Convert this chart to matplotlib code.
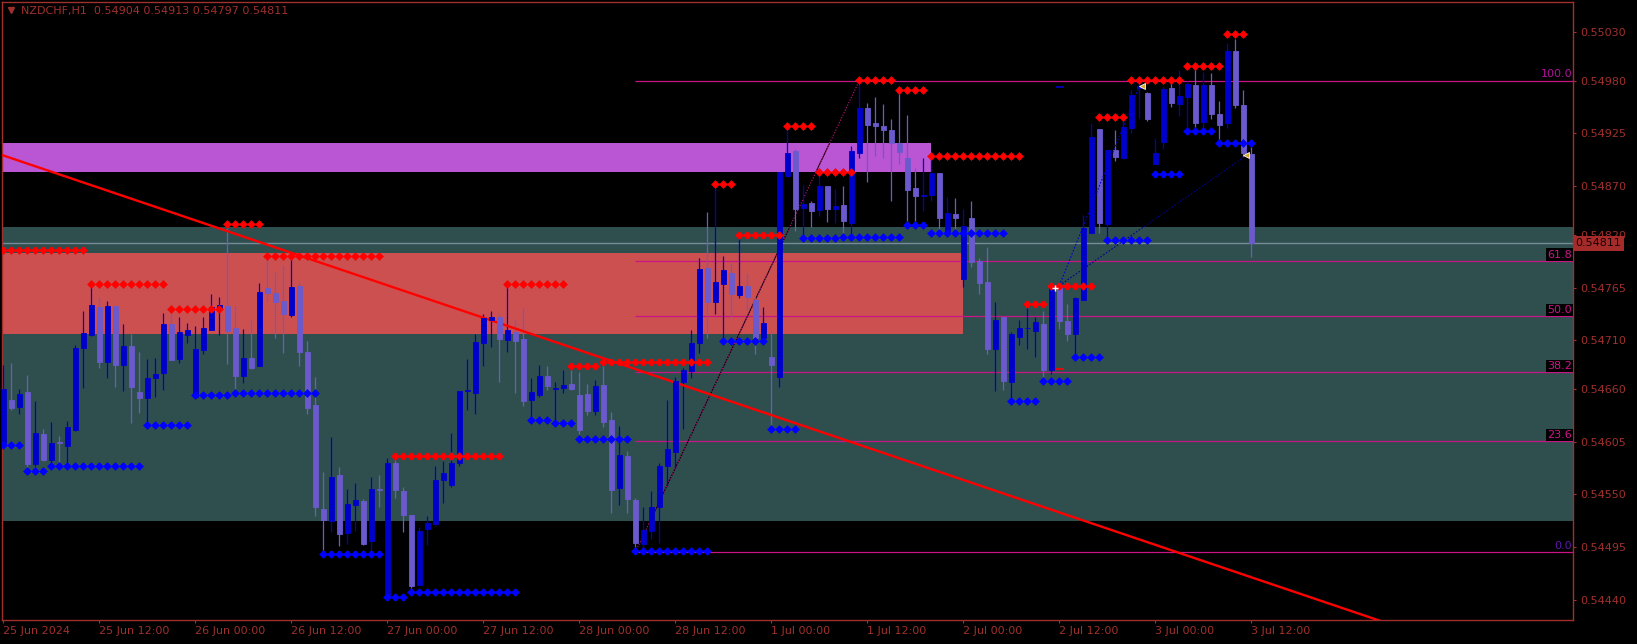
import numpy as np
import matplotlib
matplotlib.use("Agg")
import matplotlib.pyplot as plt

# NZDCHF H1, prices in points (1 point = 0.00001)
opens = [54600, 54648, 54641, 54656, 54582, 54613, 54586, 54604, 54600, 54617,
         54702, 54716, 54745, 54688, 54746, 54684, 54704, 54656, 54650, 54671,
         54676, 54727, 54691, 54716, 54651, 54700, 54721, 54743, 54746, 54723,
         54673, 54692, 54683, 54764, 54759, 54751, 54736, 54767, 54698, 54643,
         54535, 54522, 54570, 54510, 54539, 54543, 54502, 54556, 54444, 54583,
         54554, 54529, 54456, 54514, 54519, 54565, 54560, 54583, 54658, 54655,
         54707, 54731, 54734, 54710, 54719, 54711, 54648, 54653, 54673, 54660,
         54661, 54665, 54653, 54654, 54637, 54664, 54627, 54557, 54590, 54544,
         54499, 54512, 54537, 54580, 54594, 54667, 54678, 54707, 54785, 54750,
         54769, 54780, 54757, 54767, 54752, 54713, 54693, 54672, 54881, 54907,
         54848, 54853, 54846, 54870, 54847, 54851, 54832, 54905, 54951, 54936,
         54933, 54929, 54915, 54900, 54868, 54860, 54861, 54884, 54824, 54841,
         54774, 54837, 54793, 54771, 54701, 54734, 54667, 54714, 54723, 54720,
         54727, 54679, 54766, 54730, 54717, 54752, 54822, 54930, 54831, 54908,
         54900, 54931, 54972, 54967, 54893, 54916, 54972, 54956, 54963, 54975,
         54937, 54975, 54945, 54936, 55011, 54955, 54904]
highs = [54685, 54687, 54660, 54674, 54647, 54618, 54625, 54611, 54626, 54705,
         54741, 54768, 54755, 54751, 54746, 54727, 54717, 54698, 54691, 54692,
         54739, 54739, 54734, 54728, 54725, 54734, 54758, 54755, 54830, 54746,
         54722, 54731, 54770, 54797, 54781, 54788, 54798, 54770, 54709, 54672,
         54573, 54610, 54579, 54556, 54562, 54545, 54568, 54570, 54588, 54588,
         54558, 54529, 54516, 54528, 54580, 54585, 54614, 54658, 54691, 54717,
         54737, 54741, 54737, 54768, 54732, 54744, 54671, 54685, 54683, 54667,
         54679, 54679, 54677, 54665, 54669, 54686, 54636, 54621, 54595, 54546,
         54537, 54554, 54583, 54648, 54672, 54681, 54721, 54796, 54843, 54873,
         54798, 54790, 54819, 54780, 54755, 54745, 54719, 54885, 54931, 54909,
         54872, 54855, 54883, 54870, 54867, 54870, 54912, 54981, 54957, 54963,
         54956, 54940, 54968, 54944, 54889, 54900, 54904, 54884, 54859, 54858,
         54847, 54855, 54796, 54807, 54750, 54734, 54719, 54731, 54746, 54734,
         54741, 54768, 54766, 54748, 54755, 54840, 54936, 54930, 54908, 54929,
         54938, 54970, 54978, 54968, 54920, 54973, 54982, 54991, 54980, 54993,
         54989, 54988, 54959, 55019, 55023, 54970, 54913]
lows = [54598, 54638, 54634, 54571, 54580, 54585, 54577, 54580, 54582, 54616,
        54661, 54715, 54681, 54671, 54662, 54657, 54624, 54635, 54622, 54651,
        54659, 54690, 54687, 54707, 54650, 54696, 54721, 54716, 54686, 54655,
        54666, 54680, 54683, 54751, 54713, 54697, 54734, 54683, 54634, 54528,
        54488, 54511, 54496, 54499, 54512, 54498, 54486, 54537, 54442, 54546,
        54511, 54447, 54456, 54498, 54517, 54541, 54558, 54580, 54638, 54634,
        54683, 54703, 54667, 54698, 54655, 54642, 54627, 54651, 54659, 54621,
        54655, 54659, 54613, 54633, 54633, 54620, 54531, 54539, 54531, 54492,
        54490, 54504, 54500, 54559, 54577, 54618, 54671, 54697, 54713, 54737,
        54713, 54734, 54754, 54742, 54696, 54709, 54617, 54662, 54880, 54824,
        54817, 54828, 54839, 54833, 54832, 54817, 54820, 54900, 54875, 54902,
        54900, 54855, 54893, 54832, 54828, 54845, 54855, 54820, 54820, 54824,
        54766, 54786, 54758, 54696, 54657, 54659, 54647, 54705, 54701, 54693,
        54667, 54675, 54722, 54709, 54693, 54752, 54822, 54822, 54813, 54896,
        54898, 54926, 54941, 54938, 54893, 54909, 54953, 54943, 54928, 54928,
        54928, 54940, 54915, 54931, 54951, 54901, 54797]
closes = [54660, 54640, 54654, 54582, 54614, 54586, 54603, 54603, 54620, 54702,
          54718, 54747, 54688, 54746, 54685, 54704, 54662, 54650, 54671, 54675,
          54727, 54690, 54719, 54721, 54701, 54723, 54745, 54747, 54720, 54673,
          54692, 54681, 54760, 54759, 54750, 54737, 54766, 54698, 54640, 54537,
          54524, 54568, 54509, 54540, 54544, 54499, 54556, 54555, 54583, 54555,
          54529, 54455, 54512, 54520, 54565, 54572, 54583, 54658, 54659, 54708,
          54733, 54734, 54712, 54721, 54709, 54647, 54656, 54673, 54663, 54661,
          54664, 54660, 54617, 54637, 54663, 54625, 54555, 54591, 54545, 54500,
          54513, 54537, 54580, 54597, 54668, 54679, 54707, 54784, 54750, 54771,
          54783, 54758, 54767, 54755, 54713, 54728, 54684, 54885, 54905, 54847,
          54852, 54845, 54870, 54847, 54850, 54834, 54907, 54951, 54934, 54933,
          54929, 54915, 54906, 54866, 54860, 54861, 54884, 54837, 54842, 54837,
          54829, 54792, 54770, 54701, 54731, 54668, 54717, 54723, 54723, 54729,
          54679, 54766, 54730, 54717, 54754, 54827, 54921, 54832, 54908, 54901,
          54932, 54965, 54974, 54940, 54905, 54971, 54957, 54964, 54976, 54936,
          54975, 54945, 54934, 55011, 54955, 54905, 54811]

tick_labels = ["25 Jun 2024", "25 Jun 12:00", "26 Jun 00:00", "26 Jun 12:00",
               "27 Jun 00:00", "27 Jun 12:00", "28 Jun 00:00", "28 Jun 12:00",
               "1 Jul 00:00", "1 Jul 12:00", "2 Jul 00:00", "2 Jul 12:00",
               "3 Jul 00:00", "3 Jul 12:00"]
y_ticks = [0.55030, 0.54980, 0.54925, 0.54870, 0.54820, 0.54765, 0.54710,
           0.54660, 0.54605, 0.54550, 0.54495, 0.54440]

# fractal levels (first bar, last bar, price in points)
res_start = [0, 11, 21, 28, 33, 49, 63, 71, 75, 89, 92, 98, 102, 107, 112, 116,
             128, 131, 137, 141, 148, 153]
res_end = [10, 20, 27, 32, 47, 62, 70, 74, 88, 91, 97, 101, 106, 111, 115, 127,
           130, 136, 140, 147, 152, 155]
res_level = [54804, 54769, 54743, 54831, 54798, 54590, 54769, 54683, 54688,
             54873, 54820, 54933, 54885, 54981, 54970, 54902, 54748, 54767,
             54942, 54981, 54995, 55028]
sup_start = [0, 3, 6, 18, 24, 29, 40, 48, 51, 66, 69, 72, 79, 90, 96, 100, 105,
             113, 116, 126, 130, 134, 138, 144, 148, 152]
sup_end = [2, 5, 17, 23, 28, 39, 47, 50, 64, 68, 71, 78, 88, 95, 99, 104, 112,
           115, 125, 129, 133, 137, 143, 147, 151, 156]
sup_level = [54601, 54574, 54580, 54622, 54653, 54655, 54488, 54444, 54449,
             54627, 54624, 54608, 54491, 54709, 54618, 54816, 54817, 54830,
             54822, 54647, 54668, 54693, 54814, 54883, 54928, 54915]

teal_zone = [0.54522, 0.54828]
red_zone = [0.54717, 0.54801]
red_zone_end = 120
purple_zone = [0.54885, 0.54915]
purple_zone_end = 116

fib_low, fib_high = 0.54490, 0.54980
fib_from, fib_to = 79, 107
fib_levels = [0.0, 23.6, 38.2, 50.0, 61.8, 100.0]

trend_x = [-1, 172]
trend_y = [0.54905, 0.54419]
wave_x = [132, 142]
wave_y = [0.54767, 0.54974]
wave2_x = [132, 155.5]
wave2_y = [0.54767, 0.54903]
last_price = 0.54811

txt = "#A0302D"
o = np.array(opens) / 1e5
h = np.array(highs) / 1e5
l = np.array(lows) / 1e5
c = np.array(closes) / 1e5
x = np.arange(len(o))
x0, x1 = -0.16, 196.2

fig = plt.figure(figsize=(16.37, 6.44), dpi=100, facecolor="black")
ax = fig.add_axes([2 / 1637, 24 / 644, 1571 / 1637, 618 / 644])
ax.set_facecolor("black")
ax.set_xlim(x0, x1)
ax.set_ylim(0.544196, 0.550616)

# zones
ax.axhspan(teal_zone[0], teal_zone[1], color="#2F4F4F", lw=0, zorder=0)
ax.fill_between([x0, red_zone_end], red_zone[0], red_zone[1], color="#CD5050", lw=0, zorder=0.5)
ax.fill_between([x0, purple_zone_end], purple_zone[0], purple_zone[1], color="#BA55D3", lw=0, zorder=0.5)

# fibo
label_bg = {23.6: True, 38.2: True, 50.0: True, 61.8: True}
for lv in fib_levels:
    y = fib_low + (fib_high - fib_low) * lv / 100
    ax.hlines(y, fib_from, x1, color="#C71585", lw=0.9, zorder=1)
    col = "#B0109A" if lv == 100.0 else ("#5A1AA8" if lv == 0.0 else "#D0148C")
    bb = dict(boxstyle="square,pad=0.1", fc="black", ec="none") if lv in label_bg else None
    ax.text(0.9995, y + 0.000012, f"{lv:.1f}", transform=ax.get_yaxis_transform(),
            ha="right", va="bottom", fontsize=8, color=col, bbox=bb, zorder=3)
ax.plot([fib_from, fib_to], [fib_low, fib_high], color="black", lw=0.8, zorder=2)
ax.plot([fib_from, fib_to], [fib_low, fib_high], color="#C71585", lw=0.8, ls=(0, (1, 1.5)), zorder=2)

ax.hlines(last_price, x0, x1, color="#778899", lw=1, zorder=1)

# candles
up = c >= o
cols = np.where(up, "#0000CD", "#6A5ACD")
ax.vlines(x, l, h, colors=cols, lw=0.9, zorder=4)
ax.bar(x, c - o, bottom=o, width=0.6, color=cols, edgecolor=cols, lw=0.6, zorder=5)

ax.plot(trend_x, trend_y, color="#FF0000", lw=1.7, zorder=4.5)
ax.plot(wave_x, wave_y, color="#0000CD", lw=0.8, ls=(0, (1.5, 1.5)), zorder=6)
ax.plot(wave2_x, wave2_y, color="#000090", lw=0.8, ls=(0, (1.5, 1.5)), zorder=6)

for s, e, p in zip(res_start, res_end, res_level):
    xs = np.arange(s, e + 1)
    ax.plot(xs, np.full(len(xs), p / 1e5), "D", color="#FF0000", ms=3.6, mew=0.4, zorder=7)
for s, e, p in zip(sup_start, sup_end, sup_level):
    xs = np.arange(s, e + 1)
    ax.plot(xs, np.full(len(xs), p / 1e5), "D", color="#0000FF", ms=3.6, mew=0.4, zorder=7)

# small markers
ax.plot([wave_x[1] + 0.3, wave2_x[1] - 0.2], [wave_y[1], wave2_y[1]], "<",
        mfc="#DAA520", mec="white", mew=0.6, ms=5, zorder=8)
ax.plot([131.5], [0.54764], "+", color="white", ms=4, mew=1, zorder=8)
ax.hlines(0.54680, 131.6, 132.6, color="#FF0000", lw=1.2, zorder=8)
ax.hlines(0.54973, 131.6, 132.6, color="#0000CD", lw=1.2, zorder=8)

# axes styling
for sp in ax.spines.values():
    sp.set_color(txt)
    sp.set_linewidth(1)
ax.yaxis.tick_right()
ax.set_yticks(y_ticks)
ax.set_yticklabels([f"{v:.5f}" for v in y_ticks])
ax.set_xticks(np.arange(len(tick_labels)) * 12)
ax.set_xticklabels(tick_labels, ha="left")
ax.tick_params(axis="both", colors=txt, labelsize=8, length=2.5, width=0.8, direction="out")
ax.tick_params(axis="x", pad=1.5)
ax.tick_params(axis="y", pad=2.5)

ax.text(1.0015, last_price, f"{last_price:.5f}", transform=ax.get_yaxis_transform(),
        ha="left", va="center", fontsize=8, color="#1a0000", clip_on=False, zorder=10,
        bbox=dict(boxstyle="square,pad=0.22", fc="#A52A2A", ec="none"))

fig.text(21 / 1637, 1 - 11 / 644, "NZDCHF,H1  0.54904 0.54913 0.54797 0.54811",
         color=txt, fontsize=8, va="center", ha="left")
ax.plot([11 / 1637], [1 - 10 / 644], marker="v", color=txt, ms=4.5,
        transform=fig.transFigure, clip_on=False)

fig.savefig("out.png", dpi=100, facecolor="black")
